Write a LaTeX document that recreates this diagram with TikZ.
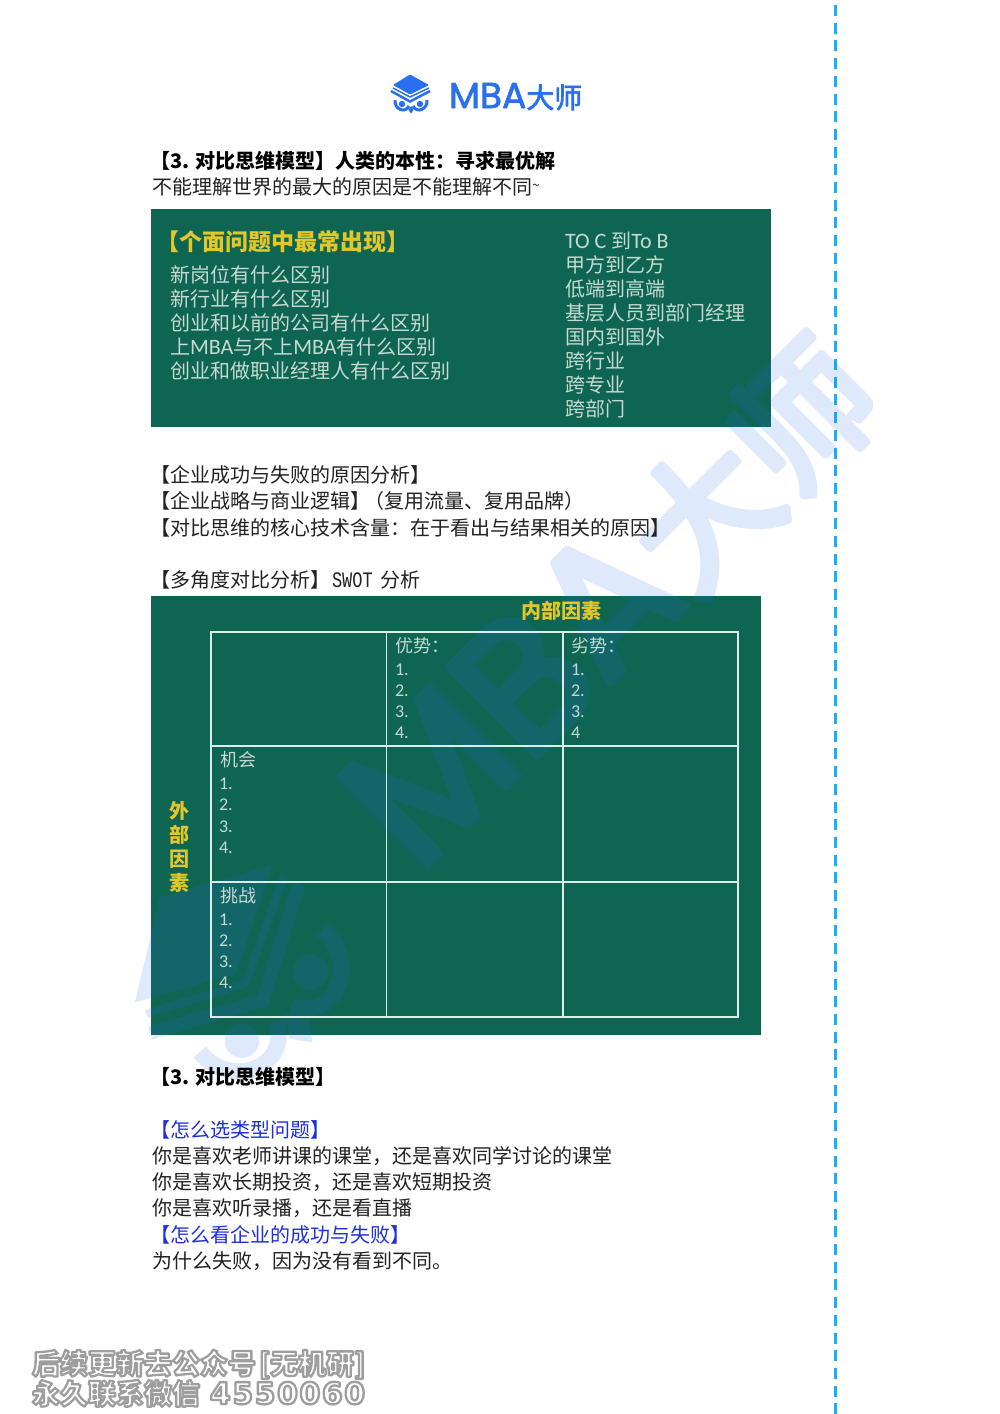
\documentclass[tikz,border=0pt]{standalone}
\usepackage{fontspec}
\setmainfont{Noto Sans CJK SC}
\newfontfamily\latf{Carlito}
\newfontfamily\monof{Liberation Mono}
\newfontfamily\logof{Poppins}
\newfontfamily\digf[LetterSpace=5]{DejaVu Sans}
\definecolor{board}{HTML}{0E6552}
\definecolor{goldt}{HTML}{E3C62A}
\definecolor{chalk}{HTML}{C6D9D2}
\definecolor{gridl}{HTML}{DCEDE7}
\definecolor{brand}{HTML}{2A6FF0}
\definecolor{dashc}{HTML}{12B2F4}
\definecolor{linkc}{HTML}{1F2FE0}
\definecolor{inkc}{HTML}{222222}
\newcommand{\fs}[1]{\fontsize{#1}{#1}\selectfont}
\newcommand{\lat}[1]{{\latf\fs{22}#1}}
\newcommand{\numt}[1]{{\latf\fs{18}#1}}
\newcommand{\outl}[1]{\special{pdf:code q 2 Tr 2.3 w 1 j 0.62 G 1 g}#1\special{pdf:code Q}}
\newcommand{\heavy}[2]{\special{pdf:code q 2 Tr #1 w 1 j 0.165 0.435 0.941 RG}#2\special{pdf:code Q}}
\tikzset{
  txt/.style={anchor=base west,inner sep=0pt,outer sep=0pt,font=\fs{20},text=inkc},
  headt/.style={txt,font=\fs{20}\bfseries,text=black},
  linkt/.style={txt,text=linkc},
  chalkt/.style={txt,text=chalk},
  goldh/.style={anchor=center,inner sep=0pt,outer sep=0pt,font=\fs{20}\bfseries,text=goldt},
  footl/.style={anchor=base west,inner sep=0pt,outer sep=0pt,font=\fs{28}\bfseries},
  hatpic/.pic={
    \fill[brand,rounded corners=1pt] (-1,-19.5) -- (18,-9) -- (-1,0.5) -- (-18,-9) -- cycle;
    \draw[brand,line width=\hk*1.5pt] (-18,-6) -- (-1,3) -- (18,-6);
    \draw[brand,line width=\hk*2.5pt] (-20,-3) -- (-1,7.5) -- (19,-3);
    \draw[brand,line width=\hk*3pt] (-16,6) .. controls (-17,15) and (-6,20) .. (-2,12);
    \draw[brand,line width=\hk*3pt] (16,6) .. controls (17,15) and (6,20) .. (2,12);
    \fill[brand] (-9,10) circle (3.2);
    \fill[brand] (9,10) circle (3.2);
    \fill[brand] (0,12) -- (2.5,16) -- (0,19.5) -- (-2.5,16) -- cycle;
  }
}
\begin{document}
\begin{tikzpicture}[x=1pt,y=-1pt]
\useasboundingbox (0,0) rectangle (1000,1414);
\fill[white] (0,0) rectangle (1000,1414);
% side rule
\coordinate (rt) at (835,5);
\coordinate (rb) at (835,1414);
\draw[dashc,line width=3pt,dash pattern=on 11pt off 6.7pt] (rt) -- (rb);
% boards
\fill[board] (151,209) rectangle (771,427);
\fill[board] (151,596) rectangle (761,1035);
% watermark
\begin{scope}[opacity=.15,transparency group]
\begin{scope}[shift={(238,968)},rotate=45,scale=5.4]
\def\hk{5.4}
\pic[transform shape] {hatpic};
\end{scope}
\begin{scope}[shift={(418,875)},rotate=45,scale=5]
\node[anchor=base west,inner sep=0pt,outer sep=0pt,text=brand,transform shape] (wm)
  at (0,0) {\heavy{1.5}{\logof\fs{36}MBA\rmfamily\fs{28}大师}};
\end{scope}
\end{scope}
% header logo
\def\hk{1}
\pic at (411,94) {hatpic};
\node[anchor=base west,inner sep=0pt,outer sep=0pt,text=brand] (lg)
  at (449,108) {\heavy{0.7}{\logof\fs{36}MBA\rmfamily\fs{28}大师}};
% grid
\draw[gridl,line width=1.4pt] (211,632) rectangle (738,1017);
\draw[gridl,line width=1.2pt] (386.5,632) -- (386.5,1017) (563,632) -- (563,1017)
  (211,746) -- (738,746) (211,882) -- (738,882);
% top text
\node[headt] (h1) at (150,168) {【3. 对比思维模型】人类的本性：寻求最优解};
\node[txt] (h2) at (152,194) {不能理解世界的最大的原因是不能理解不同\raisebox{4pt}{\fs{14}\~{}}};
% board one
\node[anchor=base west,inner sep=0pt,font=\fs{23}\bfseries,text=goldt] (b0) at (156,250) {【个面问题中最常出现】};
\node[chalkt] (b1) at (170,282) {新岗位有什么区别};
\node[chalkt] (b2) at (170,306) {新行业有什么区别};
\node[chalkt] (b3) at (170,330) {创业和以前的公司有什么区别};
\node[chalkt] (b4) at (170,354) {上\lat{MBA}与不上\lat{MBA}有什么区别};
\node[chalkt] (b5) at (170,378) {创业和做职业经理人有什么区别};
\node[chalkt] (c1) at (565,248) {\lat{TO C }到\lat{To B}};
\node[chalkt] (c2) at (565,272) {甲方到乙方};
\node[chalkt] (c3) at (565,296) {低端到高端};
\node[chalkt] (c4) at (565,320) {基层人员到部门经理};
\node[chalkt] (c5) at (565,344) {国内到国外};
\node[chalkt] (c6) at (565,368) {跨行业};
\node[chalkt] (c7) at (565,392) {跨专业};
\node[chalkt] (c8) at (565,416) {跨部门};
% middle text
\node[txt] (m1) at (150,482) {【企业成功与失败的原因分析】};
\node[txt] (m2) at (150,508) {【企业战略与商业逻辑】\kern-6pt（复用流量、复用品牌）};
\node[txt] (m3) at (150,535) {【对比思维的核心技术含量：在于看出与结果相关的原因】};
\node[txt] (m4) at (150,587) {【多角度对比分析】\kern2pt{\monof\fs{17}\scalebox{1}[1.3]{SWOT}}\kern8pt 分析};
% board two
\node[goldh] (i0) at (561,611) {内部因素};
\node[goldh] (o1) at (179,811) {外};
\node[goldh] (o2) at (179,835) {部};
\node[goldh] (o3) at (179,859) {因};
\node[goldh] (o4) at (179,883) {素};
\node[chalkt,font=\fs{18}] (s0) at (395,652) {优势：};
\node[chalkt] (s1) at (395,675) {\numt{1.}};
\node[chalkt] (s2) at (395,696) {\numt{2.}};
\node[chalkt] (s3) at (395,717) {\numt{3.}};
\node[chalkt] (s4) at (395,738) {\numt{4.}};
\node[chalkt,font=\fs{18}] (w0) at (571,652) {劣势：};
\node[chalkt] (w1) at (571,675) {\numt{1.}};
\node[chalkt] (w2) at (571,696) {\numt{2.}};
\node[chalkt] (w3) at (571,717) {\numt{3.}};
\node[chalkt] (w4) at (571,738) {\numt{4}};
\node[chalkt,font=\fs{18}] (p0) at (220,766) {机会};
\node[chalkt] (p1) at (219,789) {\numt{1.}};
\node[chalkt] (p2) at (219,810) {\numt{2.}};
\node[chalkt] (p3) at (219,832) {\numt{3.}};
\node[chalkt] (p4) at (219,853) {\numt{4.}};
\node[chalkt,font=\fs{18}] (t0) at (220,902) {挑战};
\node[chalkt] (t1) at (219,925) {\numt{1.}};
\node[chalkt] (t2) at (219,946) {\numt{2.}};
\node[chalkt] (t3) at (219,967) {\numt{3.}};
\node[chalkt] (t4) at (219,988) {\numt{4.}};
% bottom text
\node[headt] (k0) at (150,1084) {【3. 对比思维模型】};
\node[linkt] (k1) at (150,1137) {【怎么选类型问题】};
\node[txt] (k2) at (152,1163) {你是喜欢老师讲课的课堂，还是喜欢同学讨论的课堂};
\node[txt] (k3) at (152,1189) {你是喜欢长期投资，还是喜欢短期投资};
\node[txt] (k4) at (152,1215) {你是喜欢听录播，还是看直播};
\node[linkt] (k5) at (150,1242) {【怎么看企业的成功与失败】};
\node[txt] (k6) at (152,1268) {为什么失败，因为没有看到不同。};
% footer
\node[footl] (f1) at (32,1374) {\outl{后续更新去公众号\kern3pt[无机研]\kern0pt}};
\node[footl] (f2) at (32,1404) {\outl{永久联系微信\kern10pt{\digf\bfseries\fs{30}4550060}}};
\end{tikzpicture}
\end{document}
